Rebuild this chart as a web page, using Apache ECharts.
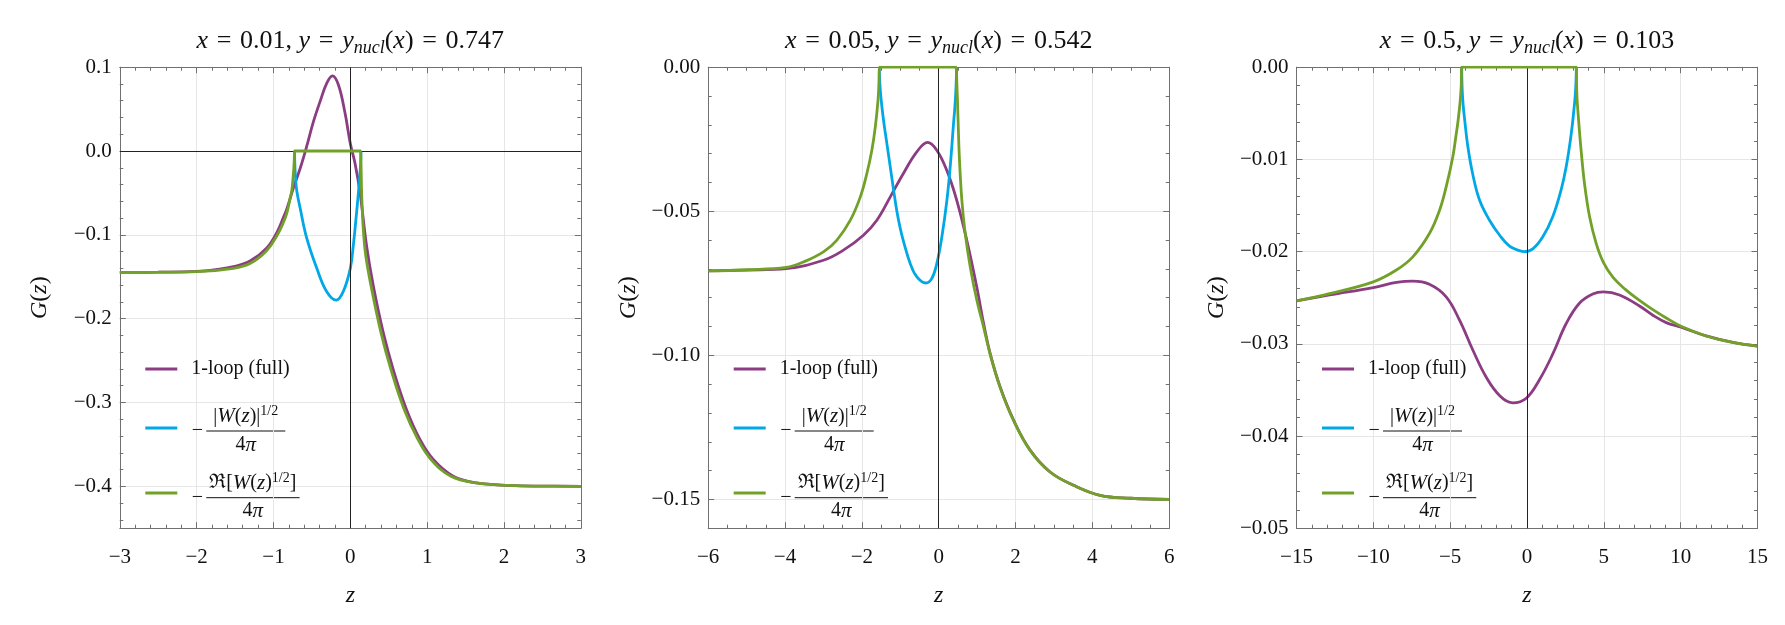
<!DOCTYPE html>
<html>
<head>
<meta charset="utf-8">
<script src="https://cdn.jsdelivr.net/npm/echarts@6/dist/echarts.min.js"></script>
<style>
  html, body { margin: 0; padding: 0; background: #fff; }
  #chart { width: 1785px; height: 625px; }
</style>
</head>
<body>
<div id="chart"></div>
<script>
// ---- panel 1 : x = 0.01 ----
var p1LoopZ = [-3.0, -2.5, -2.0, -1.75, -1.52, -1.30, -1.09, -0.955, -0.87, -0.826, -0.74, -0.65, -0.566, -0.48, -0.39, -0.306, -0.233, -0.155, -0.068, 0.0, 0.06, 0.127, 0.213, 0.30, 0.43, 0.56, 0.73, 0.906, 1.08, 1.34, 1.64, 2.07, 2.5, 3.0];
var p1LoopG = [-0.1448, -0.1446, -0.1437, -0.1415, -0.138, -0.131, -0.116, -0.097, -0.079, -0.069, -0.044, -0.020, 0.006, 0.035, 0.060, 0.081, 0.0897, 0.079, 0.045, 0.009, -0.014, -0.050, -0.114, -0.161, -0.217, -0.261, -0.308, -0.344, -0.368, -0.388, -0.396, -0.399, -0.3998, -0.400];
var p1AbsZ = [-0.726, -0.72, -0.71, -0.696, -0.653, -0.567, -0.436, -0.306, -0.184, -0.089, 0.0, 0.04, 0.08, 0.11, 0.13, 0.14];
var p1AbsG = [0, -0.020, -0.035, -0.048, -0.068, -0.104, -0.140, -0.168, -0.178, -0.167, -0.140, -0.112, -0.075, -0.045, -0.022, 0];
var p1ReZ = [-3.0, -2.5, -2.0, -1.52, -1.30, -1.09, -0.955, -0.87, -0.826, -0.78, -0.76, -0.745, -0.735, -0.729, -0.726, -0.72, 0.134, 0.14, 0.142, 0.146, 0.155, 0.17, 0.20, 0.27, 0.40, 0.53, 0.70, 0.88, 1.05, 1.31, 1.64, 2.07, 2.5, 3.0];
var p1ReG = [-0.1448, -0.1446, -0.1440, -0.140, -0.134, -0.119, -0.101, -0.085, -0.074, -0.055, -0.046, -0.032, -0.020, -0.010, 0, 0, 0, 0, -0.025, -0.045, -0.068, -0.095, -0.124, -0.161, -0.217, -0.261, -0.308, -0.344, -0.368, -0.388, -0.396, -0.399, -0.3998, -0.400];

// ---- panel 2 : x = 0.05 ----
var p2LoopZ = [-6.0, -5.0, -3.97, -3.0, -2.48, -1.96, -1.61, -1.26, -0.92, -0.57, -0.29, -0.05, 0.21, 0.47, 0.73, 0.99, 1.17, 1.34, 1.60, 1.95, 2.38, 2.90, 3.51, 4.2, 5.0, 6.0];
var p2LoopG = [-0.0707, -0.0704, -0.0699, -0.0670, -0.0635, -0.0583, -0.0531, -0.0450, -0.0369, -0.0294, -0.0261, -0.0288, -0.0358, -0.0462, -0.0600, -0.0762, -0.0890, -0.0994, -0.1110, -0.1225, -0.1329, -0.1405, -0.1451, -0.1486, -0.1496, -0.1500];
var p2AbsZ = [-1.545, -1.535, -1.50, -1.44, -1.36, -1.262, -1.17, -1.089, -1.0, -0.915, -0.742, -0.568, -0.334, -0.178, -0.048, 0.082, 0.213, 0.299, 0.386, 0.42, 0.447, 0.468];
var p2AbsG = [0, -0.005, -0.011, -0.018, -0.0255, -0.0345, -0.0430, -0.0500, -0.0560, -0.0605, -0.0681, -0.0728, -0.0749, -0.0733, -0.0681, -0.0589, -0.0462, -0.0346, -0.0196, -0.0140, -0.0080, 0];
var p2ReZ = [-6.0, -5.0, -3.97, -3.52, -3.0, -2.65, -2.30, -2.04, -1.87, -1.74, -1.65, -1.58, -1.555, -1.545, -1.53, 0.455, 0.468, 0.49, 0.50, 0.54, 0.603, 0.69, 0.82, 0.993, 1.167, 1.34, 1.60, 1.95, 2.38, 2.90, 3.51, 4.2, 5.0, 6.0];
var p2ReG = [-0.0707, -0.0703, -0.0695, -0.0676, -0.0641, -0.0600, -0.0531, -0.0450, -0.0369, -0.0288, -0.0207, -0.0115, -0.0050, 0, 0, 0, 0, -0.012, -0.0165, -0.0320, -0.0462, -0.0577, -0.0693, -0.0809, -0.0901, -0.0997, -0.1112, -0.1227, -0.1330, -0.1405, -0.1451, -0.1486, -0.1496, -0.1500];

// ---- panel 3 : x = 0.5 ----
var p3LoopZ = [-15.0, -12.85, -10.0, -8.5, -7.43, -6.35, -5.26, -4.39, -3.52, -2.66, -1.79, -0.92, -0.05, 0.81, 1.68, 2.55, 3.41, 4.28, 4.98, 6.02, 7.32, 8.19, 9.06, 10.03, 11.66, 13.4, 15.0];
var p3LoopG = [-0.02534, -0.0247, -0.0239, -0.02335, -0.0232, -0.02354, -0.0249, -0.02744, -0.0307, -0.0336, -0.0356, -0.0364, -0.0359, -0.0339, -0.0311, -0.0278, -0.0256, -0.0246, -0.02437, -0.0247, -0.0259, -0.0269, -0.0277, -0.0282, -0.02915, -0.02985, -0.03026];
var p3AbsZ = [-4.25, -4.23, -4.2, -4.15, -4.07, -3.85, -3.52, -3.09, -2.44, -1.79, -1.14, -0.49, -0.16, 0.38, 1.03, 1.68, 2.22, 2.55, 2.88, 3.09, 3.15, 3.19, 3.21];
var p3AbsG = [0, -0.0018, -0.0030, -0.0042, -0.0055, -0.0086, -0.0117, -0.0144, -0.0166, -0.0182, -0.0194, -0.0199, -0.0200, -0.0197, -0.0184, -0.0162, -0.0133, -0.0108, -0.0072, -0.0040, -0.0028, -0.0015, 0];
var p3ReZ = [-15.0, -12.85, -10.0, -8.5, -7.43, -6.35, -5.69, -5.26, -4.83, -4.61, -4.5, -4.39, -4.33, -4.28, -4.25, -4.2, 3.16, 3.21, 3.23, 3.26, 3.37, 3.52, 3.74, 4.07, 4.50, 4.98, 5.6, 6.4, 7.32, 8.19, 9.06, 10.03, 11.66, 13.4, 15.0];
var p3ReG = [-0.02534, -0.02455, -0.02328, -0.0220, -0.02057, -0.01804, -0.01551, -0.01298, -0.00973, -0.0073, -0.0060, -0.0044, -0.0033, -0.0020, 0, 0, 0, 0, -0.0022, -0.0035, -0.0060, -0.0090, -0.0126, -0.0162, -0.0191, -0.0212, -0.0228, -0.0241, -0.0253, -0.0263, -0.0272, -0.0281, -0.02915, -0.02985, -0.03026];

// tick labels
var p1XTicks = [-3, -2, -1, 0, 1, 2, 3];
var p1YTicks = [0.1, 0.0, -0.1, -0.2, -0.3, -0.4];
var p2XTicks = [-6, -4, -2, 0, 2, 4, 6];
var p2YTicks = [0.0, -0.05, -0.10, -0.15];
var p3XTicks = [-15, -10, -5, 0, 5, 10, 15];
var p3YTicks = [0.0, -0.01, -0.02, -0.03, -0.04, -0.05];

// titles
var titleX = ['0.01', '0.05', '0.5'];
var titleY = ['0.747', '0.542', '0.103'];
var seriesNames = ['1-loop (full)', '-|W(z)|^1/2 / 4pi', '-Re[W(z)^1/2] / 4pi'];
var colors = ['#8c3c82', '#00a8e6', '#72a12a'];

var FONT = 'Liberation Serif';
var FRAME = '#707070';

var panels = [
  { left: 119.8, xMin: -3, xMax: 3, xTicks: p1XTicks, xMinor: 0.2, xDec: 0,
    yMin: -0.45, yMax: 0.1, yTicks: p1YTicks, yMinor: 0.02, yDec: 1, hZero: true,
    curves: [[p1LoopZ, p1LoopG], [p1AbsZ, p1AbsG], [p1ReZ, p1ReG]] },
  { left: 708.2, xMin: -6, xMax: 6, xTicks: p2XTicks, xMinor: 0.5, xDec: 0,
    yMin: -0.16, yMax: 0, yTicks: p2YTicks, yMinor: 0.01, yDec: 2, hZero: false,
    curves: [[p2LoopZ, p2LoopG], [p2AbsZ, p2AbsG], [p2ReZ, p2ReG]] },
  { left: 1296.5, xMin: -15, xMax: 15, xTicks: p3XTicks, xMinor: 1, xDec: 0,
    yMin: -0.05, yMax: 0, yTicks: p3YTicks, yMinor: 0.002, yDec: 2, hZero: false,
    curves: [[p3LoopZ, p3LoopG], [p3AbsZ, p3AbsG], [p3ReZ, p3ReG]] }
];
var TOP = 67.2, SIZE = 461;

function fmt(v, d) {
  var s = Math.abs(v).toFixed(d);
  return (v < -1e-9 ? '\u2212' : '') + s;
}
function minors(min, max, step, majors) {
  var out = [];
  var k0 = Math.ceil(min / step - 1e-6), k1 = Math.floor(max / step + 1e-6);
  for (var k = k0; k <= k1; k++) {
    var v = +(k * step).toFixed(6);
    var isMajor = majors.some(function (m) { return Math.abs(m - v) < step / 10; });
    if (!isMajor) out.push(v);
  }
  return out;
}

var legRich = {
  i: { fontFamily: FONT, fontSize: 21, fontStyle: 'italic', color: '#111', lineHeight: 24 },
  u: { fontFamily: FONT, fontSize: 14, color: '#111', lineHeight: 14, verticalAlign: 'top' }
};

var grids = [], xAxes = [], yAxes = [], series = [], titles = [], graphics = [];
var sp = '\u2004';

// legend texts are drawn as title components (x = anchor, cy = vertical centre)
function legText(text, x, cy, align) {
  titles.push({
    text: text, left: x, top: cy - 12, textAlign: align, textVerticalAlign: 'top', padding: 0,
    textStyle: { fontFamily: FONT, fontSize: 20, fontWeight: 'normal', color: '#111', lineHeight: 24, rich: legRich }
  });
}

panels.forEach(function (p, gi) {
  grids.push({ left: p.left, top: TOP, width: SIZE, height: SIZE });
  var xMinors = minors(p.xMin, p.xMax, p.xMinor, p.xTicks);
  var yMinors = minors(p.yMin, p.yMax, p.yMinor, p.yTicks);

  // x axes: bottom main, bottom minor, top main, top minor
  [['bottom', true], ['bottom', false], ['top', true], ['top', false]].forEach(function (c, k) {
    var main = c[1];
    xAxes.push({
      type: 'value', gridIndex: gi, position: c[0], min: p.xMin, max: p.xMax,
      splitNumber: 5,
      name: k === 0 ? 'z' : '',
      nameLocation: 'middle', nameGap: 55,
      nameTextStyle: { fontFamily: FONT, fontSize: 24, fontStyle: 'italic', color: '#111' },
      axisLine: { show: main, onZero: false, lineStyle: { color: FRAME, width: 1 } },
      axisTick: { show: true, inside: true, length: main ? 6 : 3.5,
        customValues: main ? p.xTicks : xMinors, lineStyle: { color: FRAME, width: 1 } },
      minorTick: { show: false },
      axisLabel: { show: k === 0, customValues: p.xTicks, margin: 19,
        fontFamily: FONT, fontSize: 21, color: '#111',
        formatter: function (v) { return fmt(v, p.xDec); } },
      splitLine: { show: k === 0, lineStyle: { color: '#e6e6e6', width: 1 } }
    });
  });
  [['left', true], ['left', false], ['right', true], ['right', false]].forEach(function (c, k) {
    var main = c[1];
    yAxes.push({
      type: 'value', gridIndex: gi, position: c[0], min: p.yMin, max: p.yMax,
      splitNumber: gi === 1 ? 3 : 5,
      name: k === 0 ? '{i|G}({i|z})' : '',
      nameLocation: 'middle', nameGap: 68,
      nameTextStyle: { fontFamily: FONT, fontSize: 24, color: '#111',
        rich: { i: { fontFamily: FONT, fontSize: 24, fontStyle: 'italic', color: '#111' } } },
      axisLine: { show: main, onZero: false, lineStyle: { color: FRAME, width: 1 } },
      axisTick: { show: true, inside: true, length: main ? 6 : 3.5,
        customValues: main ? p.yTicks : yMinors, lineStyle: { color: FRAME, width: 1 } },
      minorTick: { show: false },
      axisLabel: { show: k === 0, customValues: p.yTicks, margin: 8,
        fontFamily: FONT, fontSize: 21, color: '#111',
        formatter: function (v) { return fmt(v, p.yDec); } },
      splitLine: { show: k === 0, lineStyle: { color: '#e6e6e6', width: 1 } }
    });
  });

  p.curves.forEach(function (cv, si) {
    var data = cv[0].map(function (z, i) { return [z, cv[1][i]]; });
    var s = {
      type: 'line', name: seriesNames[si], xAxisIndex: gi * 4, yAxisIndex: gi * 4,
      data: data, showSymbol: false, symbol: 'none', smooth: 0.4,
      lineStyle: { color: colors[si], width: 2.8 }, itemStyle: { color: colors[si] },
      emphasis: { disabled: true }, silent: true, z: 3 + si
    };
    if (si === 0) {
      var md = [{ xAxis: 0 }];
      if (p.hZero) md.push({ yAxis: 0 });
      s.markLine = { silent: true, symbol: ['none', 'none'], label: { show: false },
        lineStyle: { color: '#222', width: 1, type: 'solid' }, animation: false, data: md };
    }
    series.push(s);
  });

  var cx = p.left + SIZE / 2;
  titles.push({
    text: '{i|x}' + sp + '=' + sp + titleX[gi] + ', {i|y}' + sp + '=' + sp + '{i|y}{s|nucl}({i|x})' + sp + '=' + sp + titleY[gi],
    left: cx, top: 26, textAlign: 'center', padding: 0,
    textStyle: { fontFamily: FONT, fontSize: 26, fontWeight: 'normal', color: '#111', lineHeight: 31,
      rich: {
        i: { fontFamily: FONT, fontSize: 26, fontStyle: 'italic', color: '#111', lineHeight: 31 },
        s: { fontFamily: FONT, fontSize: 18, fontStyle: 'italic', color: '#111', lineHeight: 15, verticalAlign: 'bottom' }
      } }
  });

  // legend: coloured keys and fraction bars as graphics, texts as titles
  var L = p.left;
  [369, 428, 493].forEach(function (ly, si) {
    graphics.push({ type: 'line', shape: { x1: L + 25.5, y1: ly, x2: L + 57.5, y2: ly },
      style: { stroke: colors[si], lineWidth: 3 } });
  });
  graphics.push(
    { type: 'line', shape: { x1: L + 86.5, y1: 431, x2: L + 165.5, y2: 431 }, style: { stroke: '#111', lineWidth: 1 } },
    { type: 'line', shape: { x1: L + 86.5, y1: 497.7, x2: L + 179.8, y2: 497.7 }, style: { stroke: '#111', lineWidth: 1 } }
  );
  legText('1-loop (full)', L + 71.5, 369, 'left');
  legText('\u2212', L + 72, 431, 'left');
  legText('|{i|W}({i|z})|{u|1/2}', L + 126, 416.5, 'center');
  legText('4{i|\u03c0}', L + 126, 445, 'center');
  legText('\u2212', L + 72, 497.7, 'left');
  legText('\u211c[{i|W}({i|z}){u|1/2}]', L + 133, 483, 'center');
  legText('4{i|\u03c0}', L + 133, 511, 'center');
});

var chart = echarts.init(document.getElementById('chart'), null, { renderer: 'canvas' });
chart.setOption({
  backgroundColor: '#fff',
  animation: false,
  title: titles,
  grid: grids,
  xAxis: xAxes,
  yAxis: yAxes,
  series: series,
  graphic: graphics
});
</script>
</body>
</html>
